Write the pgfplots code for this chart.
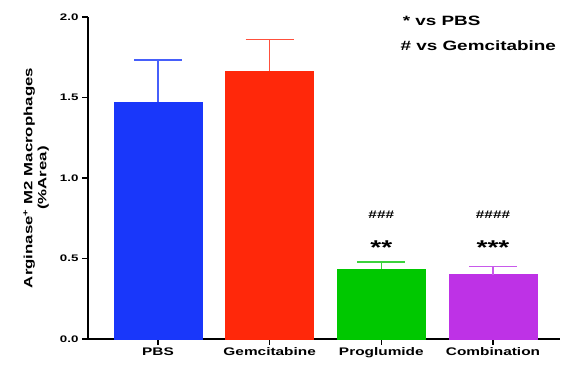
\documentclass[border=0pt]{standalone}
\usepackage{pgfplots}
\pgfplotsset{compat=1.18}
\usepackage{graphicx}
\usepackage{fontspec}
\setmainfont{Liberation Sans}
\newcommand{\sx}[1]{\scalebox{1.4}[1]{#1}}
\definecolor{cblue}{RGB}{25,55,250}
\definecolor{cred}{RGB}{255,40,10}
\definecolor{cgreen}{RGB}{0,200,0}
\definecolor{cpurple}{RGB}{190,50,230}
\definecolor{ebblue}{RGB}{70,95,250}
\definecolor{ebred}{RGB}{255,80,60}
\definecolor{ebgreen}{RGB}{60,210,60}
\definecolor{ebpurple}{RGB}{200,90,235}
\begin{document}
\begin{tikzpicture}
\begin{axis}[name=ax, at={(0,0)}, anchor=south west,
  scale only axis, width=472pt, height=322pt,
  xmin=-0.627, xmax=3.6, ymin=0, ymax=2,
  axis x line*=bottom, axis y line*=left,
  axis line style={line width=1.5pt,-},
  xtick={0,1,2,3}, xticklabels={\sx{PBS},\sx{Gemcitabine},\sx{Proglumide},\sx{Combination}},
  ytick={0,0.5,1,1.5,2},
  yticklabel={\sx{\pgfmathprintnumber{\tick}}},
  tick align=outside, major tick length=6pt,
  tick style={line width=1.5pt,black},
  yticklabel style={/pgf/number format/fixed, /pgf/number format/fixed zerofill, /pgf/number format/precision=1},
  /pgf/number format/assume math mode=true,
  yticklabel style={font=\bfseries\fontsize{9.5}{10}\selectfont},
  xticklabel style={font=\bfseries\fontsize{11}{12}\selectfont, yshift=1pt},
  ylabel={\sx{Arginase\textsuperscript{+} M2 Macrophages}\\\sx{(\%Area)}},
  ylabel style={align=center, font=\bfseries\fontsize{12}{14}\selectfont, at={(axis description cs:-0.11,0.5)}, anchor=center},
  ybar, bar width=88pt, bar shift=0pt,
  clip=false,
]
\addplot[color=cblue, fill=cblue, draw=cblue, error bars/.cd, y dir=plus, y explicit,
  error bar style={line width=1.6pt, draw=ebblue},
  error mark options={rotate=90, mark size=24pt, line width=1.6pt, draw=ebblue}]
  coordinates {(0,1.47) +- (0,0.263)};
\addplot[color=cred, fill=cred, draw=cred, error bars/.cd, y dir=plus, y explicit,
  error bar style={line width=1.6pt, draw=ebred},
  error mark options={rotate=90, mark size=24pt, line width=1.6pt, draw=ebred}]
  coordinates {(1,1.665) +- (0,0.195)};
\addplot[color=cgreen, fill=cgreen, draw=cgreen, error bars/.cd, y dir=plus, y explicit,
  error bar style={line width=1.6pt, draw=ebgreen},
  error mark options={rotate=90, mark size=24pt, line width=1.6pt, draw=ebgreen}]
  coordinates {(2,0.435) +- (0,0.045)};
\addplot[color=cpurple, fill=cpurple, draw=cpurple, error bars/.cd, y dir=plus, y explicit,
  error bar style={line width=1.6pt, draw=ebpurple},
  error mark options={rotate=90, mark size=24pt, line width=1.6pt, draw=ebpurple}]
  coordinates {(3,0.40) +- (0,0.05)};
\node[font=\bfseries\fontsize{11}{12}\selectfont] at (axis cs:2,0.77) {\sx{\#\#\#}};
\node[font=\bfseries\fontsize{20}{20}\selectfont] at (axis cs:2,0.565) {\sx{**}};
\node[font=\bfseries\fontsize{11}{12}\selectfont] at (axis cs:3,0.77) {\sx{\#\#\#\#}};
\node[font=\bfseries\fontsize{20}{20}\selectfont] at (axis cs:3,0.565) {\sx{***}};
\node[anchor=west, font=\bfseries\fontsize{13.5}{14}\selectfont, inner sep=0pt] at (axis cs:2.19,1.975) {\sx{* vs PBS}};
\node[anchor=west, font=\bfseries\fontsize{13.5}{14}\selectfont, inner sep=0pt] at (axis cs:2.17,1.82) {\sx{\# vs Gemcitabine}};
\end{axis}
\pgfresetboundingbox
\path[use as bounding box] (ax.south west) ++(-88pt,-27pt) rectangle ++(567pt,366pt);
\end{tikzpicture}
\end{document}
